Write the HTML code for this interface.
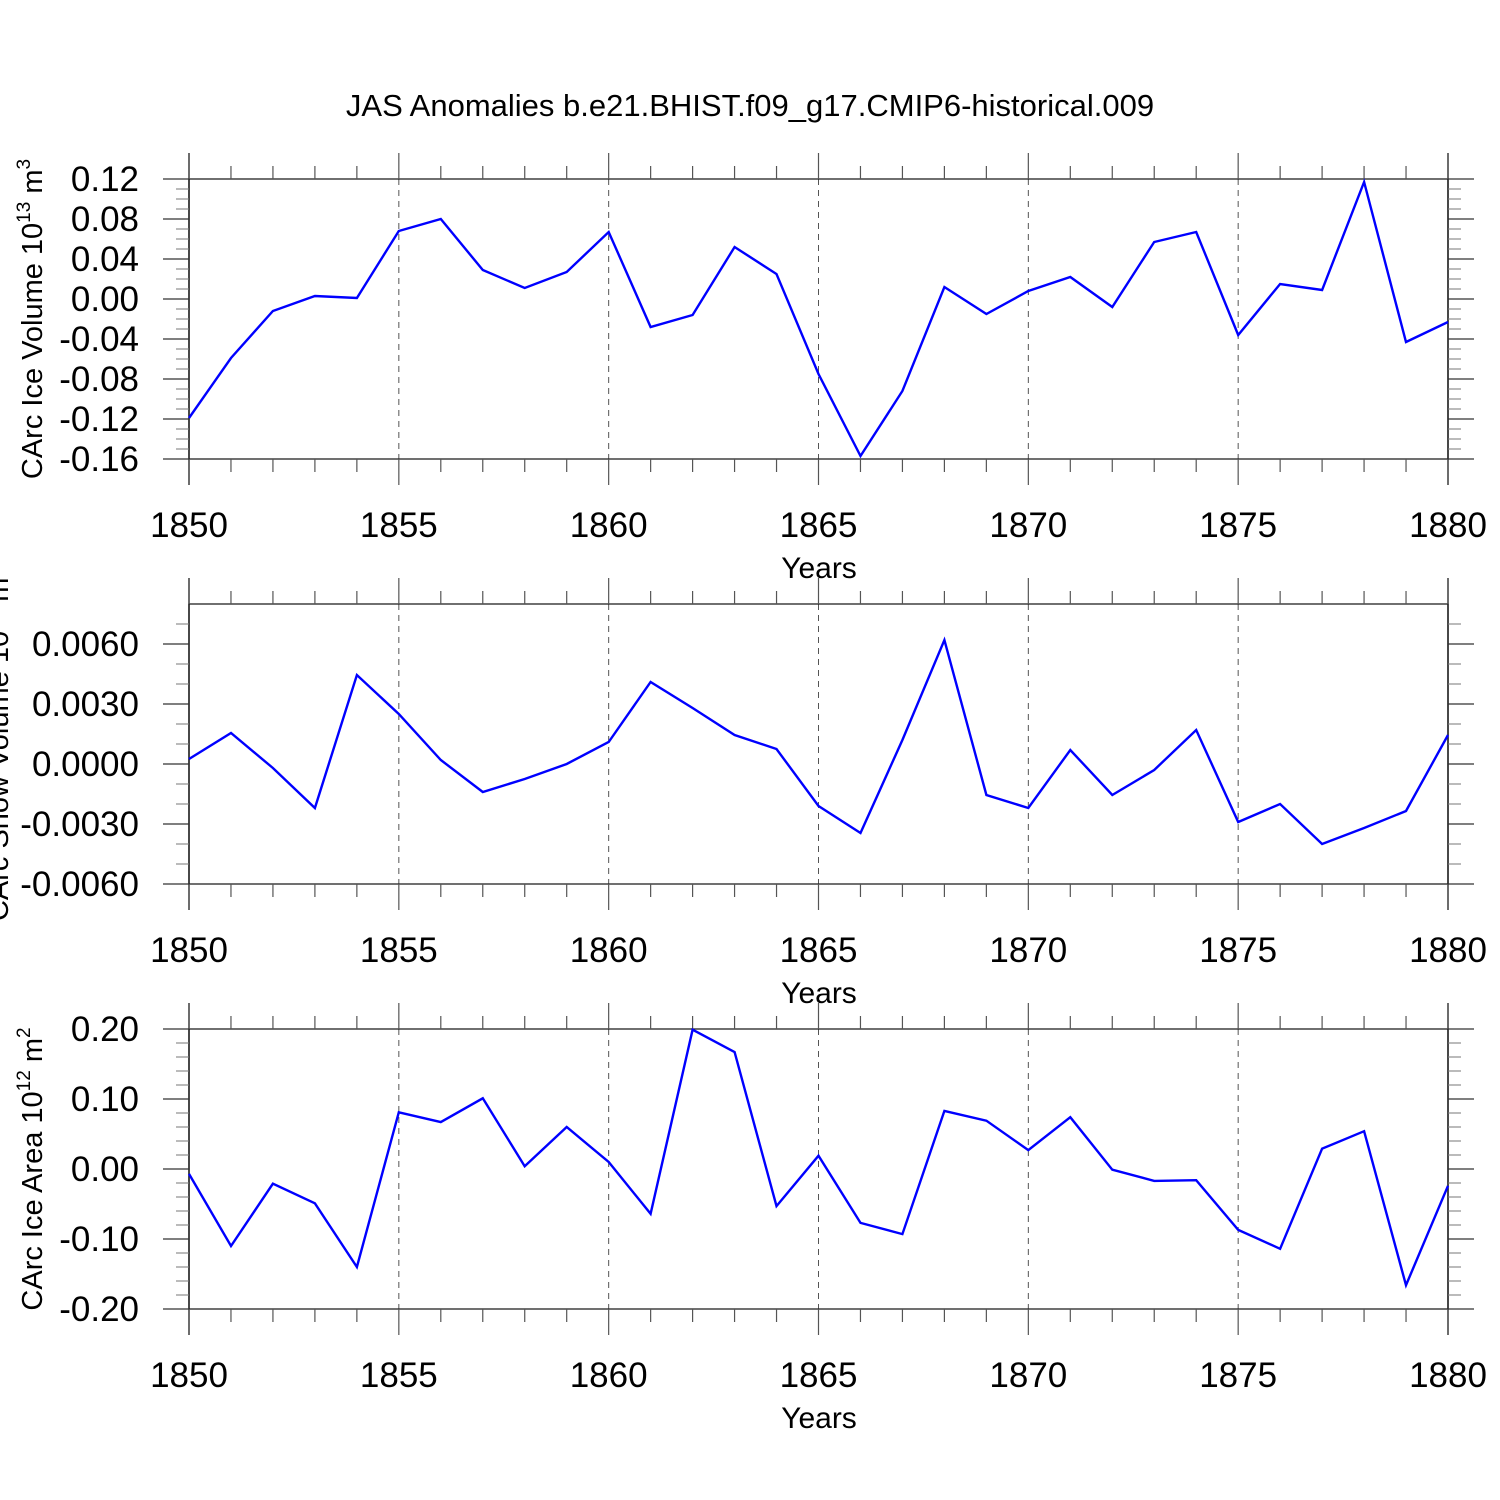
<!DOCTYPE html>
<html><head><meta charset="utf-8"><style>
html,body{margin:0;padding:0;background:#fff;}
svg{display:block;font-family:"Liberation Sans",Arial,sans-serif;}
</style></head>
<body>
<svg id="chart" width="1500" height="1500" viewBox="0 0 1500 1500" xmlns="http://www.w3.org/2000/svg">
<rect width="1500" height="1500" fill="#fff"/>
<text x="750" y="116" text-anchor="middle" font-size="31">JAS Anomalies b.e21.BHIST.f09_g17.CMIP6-historical.009</text>
</svg>
<script>
const years = [1850,1851,1852,1853,1854,1855,1856,1857,1858,1859,1860,1861,1862,1863,1864,1865,1866,1867,1868,1869,1870,1871,1872,1873,1874,1875,1876,1877,1878,1879,1880];
const iceVolume = [-0.119,-0.059,-0.012,0.003,0.001,0.068,0.080,0.029,0.011,0.027,0.067,-0.028,-0.016,0.052,0.025,-0.075,-0.157,-0.092,0.012,-0.015,0.008,0.022,-0.008,0.057,0.067,-0.036,0.015,0.009,0.117,-0.043,-0.023];
const snowVolume = [0.00025,0.00155,-0.0002,-0.0022,0.00445,0.0025,0.0002,-0.0014,-0.00075,0,0.0011,0.0041,0.0028,0.00145,0.00075,-0.0021,-0.00345,0.0012,0.0062,-0.00155,-0.0022,0.0007,-0.00155,-0.0003,0.0017,-0.0029,-0.002,-0.004,-0.0032,-0.00235,0.00145];
const iceArea = [-0.007,-0.11,-0.021,-0.049,-0.14,0.081,0.067,0.101,0.004,0.06,0.01,-0.064,0.199,0.167,-0.053,0.019,-0.077,-0.093,0.083,0.069,0.027,0.074,-0.001,-0.017,-0.016,-0.087,-0.114,0.029,0.054,-0.166,-0.024];
const xTickLabels = ["1850","1855","1860","1865","1870","1875","1880"];
const volTicks = ["0.12","0.08","0.04","0.00","-0.04","-0.08","-0.12","-0.16"];
const snowTicks = ["0.0060","0.0030","0.0000","-0.0030","-0.0060"];
const areaTicks = ["0.20","0.10","0.00","-0.10","-0.20"];

const NS = "http://www.w3.org/2000/svg";
const svg = document.getElementById('chart');
const X0 = 189, X1 = 1448;
function xs(yr){ return X0 + (yr-1850)/30*(X1-X0); }
function mk(tag, attrs, parent){
  const e = document.createElementNS(NS, tag);
  for (const k in attrs) e.setAttribute(k, attrs[k]);
  (parent||svg).appendChild(e);
  return e;
}

function panel(cfg){
  const g = mk('g', {});
  
  
  const ys = v => cfg.top + (cfg.ymax - v)/(cfg.ymax - cfg.ymin)*(cfg.bot - cfg.top);
  for (let yr=1855; yr<=1875; yr+=5){
    const l = mk('line',{x1:xs(yr),x2:xs(yr),y1:cfg.top,y2:cfg.bot,stroke:'#555','stroke-width':1,'stroke-dasharray':'6,5'},g);
    
    
  }
  mk('rect',{x:X0,y:cfg.top,width:X1-X0,height:cfg.bot-cfg.top,fill:'none',stroke:'#222','stroke-width':1.3},g);
  mk('line',{x1:X0,x2:X0,y1:cfg.top-26,y2:cfg.bot+26,stroke:'#222','stroke-width':1.5},g);
  mk('line',{x1:X1,x2:X1,y1:cfg.top-26,y2:cfg.bot+26,stroke:'#222','stroke-width':1.5},g);
  for (let yr=1850; yr<=1880; yr++){
    const x = xs(yr), major = yr%5===0, L = major?26:13;
    mk('line',{x1:x,x2:x,y1:cfg.top-L,y2:cfg.top,stroke:'#555','stroke-width':1.2},g);
    mk('line',{x1:x,x2:x,y1:cfg.bot,y2:cfg.bot+L,stroke:'#555','stroke-width':1.2},g);
  }
  xTickLabels.forEach(lbl=>{
    const t = mk('text',{x:xs(+lbl),y:cfg.bot+78,'text-anchor':'middle','font-size':35},g);
    
    
    t.textContent = lbl;
  });
  const xt = mk('text',{x:819,y:cfg.bot+119,'text-anchor':'middle','font-size':30},g);
  
  
  xt.textContent = 'Years';
  const nMinor = Math.round((cfg.ymax-cfg.ymin)/cfg.minor);
  for (let i=0;i<=nMinor;i++){
    const v = cfg.ymin + i*cfg.minor;
    const y = ys(v);
    if (y <= cfg.top+0.5 || y >= cfg.bot-0.5) continue;
    mk('line',{x1:X0-13,x2:X0,y1:y,y2:y,stroke:'#777','stroke-width':1},g);
    mk('line',{x1:X1,x2:X1+13,y1:y,y2:y,stroke:'#777','stroke-width':1},g);
  }
  cfg.ticks.forEach(lbl=>{
    const y = ys(parseFloat(lbl));
    mk('line',{x1:X0-26,x2:X0,y1:y,y2:y,stroke:'#333','stroke-width':1.3},g);
    mk('line',{x1:X1,x2:X1+26,y1:y,y2:y,stroke:'#333','stroke-width':1.3},g);
    const t = mk('text',{x:139,y:y+12,'text-anchor':'end','font-size':35},g);
    
    
    t.textContent = lbl;
  });
  const cy = (cfg.top+cfg.bot)/2;
  const yt = mk('text',{x:0,y:0,'text-anchor':'middle','font-size':29,transform:`translate(${cfg.titleX},${cy}) rotate(-90)`},g);
  
  
  yt.innerHTML = cfg.title;
  const pts = years.map((yr,i)=>xs(yr).toFixed(1)+','+ys(cfg.data[i]).toFixed(1)).join(' ');
  const pl = mk('polyline',{points:pts,fill:'none',stroke:'#0000ff','stroke-width':2.4,'stroke-linejoin':'miter'},g);
  
  
}

panel({name:'ice-volume-panel',top:179,bot:459,ymax:0.12,ymin:-0.16,minor:0.01,ticks:volTicks,data:iceVolume,titleX:42,
  title:'CArc Ice Volume 10<tspan font-size="19" dy="-12">13</tspan><tspan dy="12"> m</tspan><tspan font-size="19" dy="-12">3</tspan>'});
panel({name:'snow-volume-panel',top:604,bot:884,ymax:0.008,ymin:-0.006,minor:0.001,ticks:snowTicks,data:snowVolume,titleX:8,
  title:'CArc Snow Volume 10<tspan font-size="19" dy="-12">13</tspan><tspan dy="12"> m</tspan><tspan font-size="19" dy="-12">3</tspan>'});
panel({name:'ice-area-panel',top:1029,bot:1309,ymax:0.2,ymin:-0.2,minor:0.02,ticks:areaTicks,data:iceArea,titleX:42,
  title:'CArc Ice Area 10<tspan font-size="19" dy="-12">12</tspan><tspan dy="12"> m</tspan><tspan font-size="19" dy="-12">2</tspan>'});
</script>
</body></html>
